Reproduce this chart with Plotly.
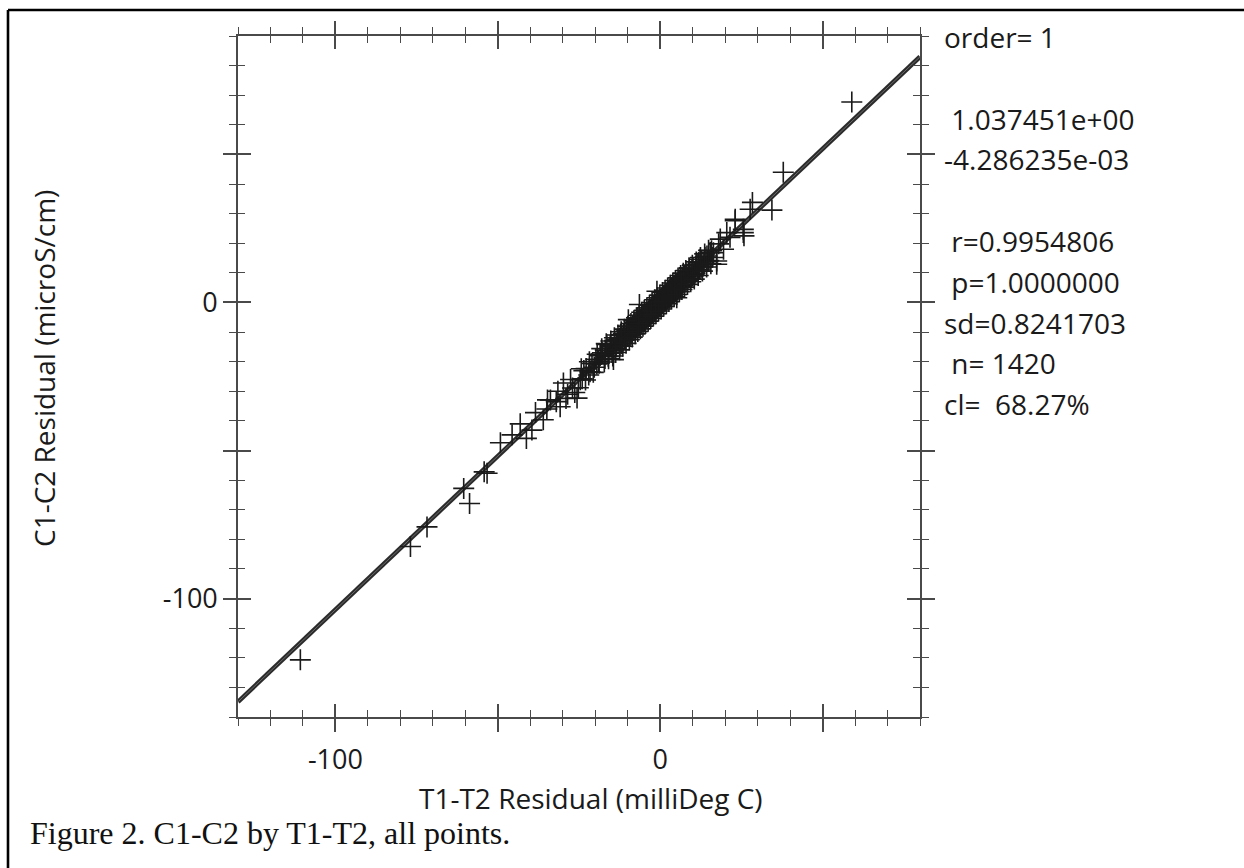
import plotly.graph_objects as go

# ---- data ----
t_resid = [
    -110.8, -76.9, -71.8, -60.5, -58.7, -54.2, -53.3, -49.2, -45.6, -43.1, -41.2,
    -34.9, -34.7, -33.8, -32.0, -30.8, -29.8, -28.5, -27.0, -26.3, -25.6, -24.6,
    -23.5, -22.0, -21.0, -19.5, -19.0, -18.2, -17.0, -16.4, -15.8, -15.1, -14.4,
    -14.4, -14.0, -13.5, -12.9, -12.4, -12.0, -11.6, -11.1, -10.7, -10.3, -9.8,
    -9.6, -9.2, -8.9, -8.5, -8.1, -7.8, -7.4, -7.0, -6.5, -6.4, -6.2, -5.9, -5.5,
    -5.2, -4.9, -4.6, -4.3, -4.0, -3.7, -3.4, -3.1, -2.8, -2.5, -2.2, -1.9, -1.6,
    -1.3, -1.0, -1.0, -0.7, -0.4, -0.1, 0.2, 0.5, 0.8, 1.1, 1.4, 1.7, 2.0, 2.3,
    2.6, 2.9, 3.2, 3.5, 3.8, 4.1, 4.4, 4.7, 5.0, 5.1, 5.4, 5.8, 6.2, 6.6, 7.0,
    7.4, 7.8, 8.3, 8.8, 9.0, 9.3, 9.8, 10.4, 11.0, 11.6, 12.3, 12.9, 13.5, 14.4,
    15.0, 15.8, 16.4, 17.4, 17.4, 18.0, 18.5, 19.5, 20.5, 21.5, 23.1, 23.1, 25.6,
    25.6, 25.8, 27.7, 28.4, 34.4, 37.9, 59.0,
    -19.8, -18.8, -17.8, -16.9, -16.0, -15.4, -14.8, -13.9, -13.2, -12.6, -11.9,
    -11.3, -10.9, -10.1, -9.5, -9.0, -8.6, -8.2, -7.6, -7.2, -6.8, -6.0, -5.7,
    -5.3, -5.0, -4.5, -4.2, -3.9, -3.5, -3.2, -2.9, -2.6, -2.3, -2.0, -1.7, -1.4,
    -1.1, -0.8, -0.5, -0.2, 0.1, 0.4, 0.7, 1.0, 1.3, 1.6, 1.9, 2.2, 2.5, 2.8, 3.1,
    3.4, 3.7, 4.0, 4.3, 4.6, 4.9, 5.3, 5.6, 6.0, 6.4, 6.8, 7.2, 7.6, 8.0, 8.5,
    9.1, 9.6, 10.1, 10.7, 11.3, 12.0, 12.6, 13.2, 13.8, 14.7, 15.4, 16.1, -22.8,
    -24.0, -20.3, -21.6, -18.5, -0.3, 0.9, -2.4, 3.0, -4.8, 5.8, -7.0, 7.5, -9.3,
    10.0, -12.2, 11.8,
    -18.0, -17.2, -16.6, -15.9, -15.2, -14.6, -14.1, -13.7, -13.0, -12.5, -12.0,
    -11.5, -11.0, -10.5, -10.0, -9.5, -9.0, -8.6, -8.1, -7.7, -7.3, -6.9, -6.5,
    -6.1, -5.7, -5.3, -4.9, -4.5, -4.1, -3.7, -3.3, -2.9, -2.5, -2.1, -1.7, -1.3,
    -0.9, -0.5, -0.1, 0.3, 0.7, 1.1, 1.5, 1.9, 2.3, 2.7, 3.1, 3.5, 3.9, 4.3, 4.7,
    5.1, 5.5, 5.9, 6.3, 6.7, 7.1, 7.5, 7.9, 8.4, 8.9, 9.4, 9.9, 10.5, 11.1, 11.7,
    12.4, 13.0, 13.7, 14.3, 14.9, 15.6, -19.4, -20.6, -21.8, -23.0, -24.3, -25.2,
    -27.6, -29.0, -31.5, -36.0, -38.4, -39.5, -1.5, -0.6, 0.6, 1.5, 2.4, -2.7,
    3.6, -3.8, 4.5, -5.6, 6.5, -6.6,
]
c_resid = [
    -120.7, -82.4, -75.8, -62.8, -67.9, -57.2, -57.7, -47.4, -44.7, -41.0, -45.9,
    -36.0, -32.9, -32.9, -33.5, -35.2, -27.2, -31.0, -28.9, -30.4, -32.3, -26.1,
    -23.0, -24.5, -20.6, -20.8, -19.9, -17.6, -18.9, -14.2, -17.1, -15.0, -16.3,
    -19.3, -12.9, -14.8, -13.0, -14.6, -11.1, -12.9, -11.0, -12.6, -9.4, -5.8,
    -10.8, -8.6, -10.1, -8.1, -9.5, -6.9, -8.6, -6.3, -7.9, -0.7, -5.6, -6.8, -4.9,
    -6.3, -4.4, -5.9, -3.6, -5.0, -3.1, -4.4, -2.5, -3.9, -1.9, -3.3, -1.2, -2.8,
    -0.6, 3.8, -2.0, -0.1, -1.5, 0.6, -0.9, 1.2, -0.2, 2.0, 0.4, 2.6, 1.0, 3.3,
    1.8, 3.9, 2.2, 4.7, 2.9, 5.3, 3.6, 5.9, 4.3, 1.6, 6.4, 5.1, 7.3, 5.9, 8.1,
    6.6, 9.0, 7.4, 10.0, 11.5, 8.2, 11.1, 9.4, 12.3, 10.6, 14.6, 12.0, 13.0, 15.7,
    14.2, 17.5, 16.8, 12.9, 14.0, 19.8, 21.4, 18.0, 23.6, 22.0, 28.1, 27.6, 24.7,
    23.6, 22.5, 31.5, 33.8, 31.2, 44.0, 67.7,
    -19.2, -20.5, -17.0, -16.1, -18.2, -14.6, -16.9, -15.5, -12.4, -12.1, -13.9,
    -10.6, -11.9, -11.4, -8.9, -10.6, -9.8, -7.6, -9.0, -7.0, -6.0, -7.4, -5.2,
    -4.6, -6.6, -3.9, -5.4, -4.5, -2.8, -4.6, -2.3, -3.4, -1.6, -2.9, -1.0, -2.3,
    -0.3, -1.8, 0.3, -1.2, 1.1, -0.5, 1.6, 0.1, 2.3, 0.7, 3.0, 1.2, 3.5, 2.0, 4.2,
    2.5, 4.9, 3.3, 5.7, 3.9, 6.3, 4.5, 7.0, 5.3, 7.6, 5.8, 8.6, 6.9, 9.6, 7.7,
    10.5, 8.6, 11.6, 9.9, 12.9, 11.2, 13.8, 12.3, 15.3, 13.8, 16.9, 15.2, -22.3,
    -25.8, -21.9, -23.4, -18.0, 0.9, 2.2, -1.2, 1.5, -6.2, 7.6, -5.4, 8.9, -11.2,
    9.0, -10.8, 13.5,
    -15.6, -20.1, -13.9, -19.0, -13.0, -18.1, -11.9, -16.9, -11.0, -16.0, -9.9,
    -14.8, -9.0, -13.8, -8.0, -12.6, -7.1, -11.7, -6.2, -10.6, -5.2, -9.8, -4.3,
    -8.9, -3.3, -8.0, -2.6, -7.1, -1.8, -6.3, -0.9, -5.4, 0.0, -4.6, 0.9, -3.8,
    1.6, -2.9, 2.5, -2.2, 3.4, -1.3, 4.1, -0.4, 4.9, 0.3, 5.8, 1.2, 6.6, 1.9, 7.4,
    2.7, 8.3, 3.6, 9.1, 4.4, 9.9, 5.2, 10.8, 6.1, 11.7, 7.0, 12.6, 7.9, 13.7, 9.1,
    15.2, 10.6, 16.4, 12.0, 17.6, 13.1, -17.5, -23.6, -20.0, -26.2, -22.4, -28.8,
    -26.0, -32.4, -30.0, -39.6, -37.2, -43.1, -1.0, -0.2, 0.2, 1.9, 2.2, -3.0,
    3.9, -4.2, 4.9, -5.6, 6.9, -7.1,
]

fit_slope = 1.037451
fit_intercept = -4.286235e-03
fit_x = [-130, 80]

x_range = [-130, 80]
y_range = [-140, 90]
major_vals = [-100, -50, 0, 50]
major_text = ["-100", "", "0", ""]

stats_lines = [
    "order= 1",
    "",
    "\u00a01.037451e+00",
    "-4.286235e-03",
    "",
    "\u00a0r=0.9954806",
    "\u00a0p=1.0000000",
    "sd=0.8241703",
    "\u00a0n= 1420",
    "cl=\u00a0 68.27%",
]

x_title = "T1-T2 Residual (milliDeg C)"
y_title = "C1-C2 Residual (microS/cm)"
caption = "Figure 2. C1-C2 by T1-T2, all points."

# ---- layout geometry (pixels) ----
W, H = 1244, 868
L, R, T, B = 238, 920, 36, 717
pw, ph = R - L, B - T


def px_x(px):
    return (px - L) / pw


def px_y(py):
    return (B - py) / ph


FONT = "Open Sans"
AX = "#4a4a4a"

fig = go.Figure()

fit_y = [fit_slope * v + fit_intercept for v in fit_x]
fig.add_trace(go.Scatter(x=fit_x, y=fit_y, mode="lines",
                         line=dict(color="#2b2b2b", width=4.6),
                         hoverinfo="skip", showlegend=False))
fig.add_trace(go.Scatter(x=fit_x, y=fit_y, mode="lines",
                         line=dict(color="#6a6a6a", width=1.0),
                         hoverinfo="skip", showlegend=False))
fig.add_trace(go.Scatter(x=t_resid, y=c_resid, mode="markers",
                         marker=dict(symbol="cross-thin", size=15,
                                     line=dict(color="#1a1a1a", width=1.6)),
                         showlegend=False))
# helper trace for the inner-tick axes
fig.add_trace(go.Scatter(x=[None], y=[None], xaxis="x2", yaxis="y2",
                         showlegend=False, hoverinfo="skip"))

common = dict(showline=True, linecolor=AX, linewidth=1.6, mirror="ticks",
              showgrid=False, zeroline=False, tickwidth=1.6, tickcolor=AX,
              fixedrange=True)

fig.update_layout(
    width=W, height=H,
    margin=dict(l=L, r=W - R, t=T, b=H - B, pad=0),
    paper_bgcolor="white", plot_bgcolor="white",
    xaxis=dict(range=x_range, ticks="outside", ticklen=13,
               tickvals=major_vals, ticktext=major_text, ticklabelstandoff=5,
               tickfont=dict(family=FONT, size=27, color="#1a1a1a"),
               minor=dict(dtick=10, tick0=0, ticks="outside", ticklen=7,
                          tickwidth=1.4, tickcolor=AX),
               **common),
    yaxis=dict(range=y_range, ticks="outside", ticklen=13,
               tickvals=major_vals, ticktext=major_text,
               tickfont=dict(family=FONT, size=27, color="#1a1a1a"),
               minor=dict(dtick=10, tick0=0, ticks="outside", ticklen=7,
                          tickwidth=1.4, tickcolor=AX),
               **common),
    xaxis2=dict(range=x_range, overlaying="x", anchor="y2", side="bottom",
                ticks="inside", ticklen=13, tickvals=major_vals,
                showticklabels=False,
                minor=dict(dtick=10, tick0=0, ticks="inside", ticklen=7,
                           tickwidth=1.4, tickcolor=AX),
                **common),
    yaxis2=dict(range=y_range, overlaying="y", anchor="x2", side="left",
                ticks="inside", ticklen=13, tickvals=major_vals,
                showticklabels=False,
                minor=dict(dtick=10, tick0=0, ticks="inside", ticklen=7,
                           tickwidth=1.4, tickcolor=AX),
                **common),
)

annotations = []
annotations.append(dict(text=x_title, x=px_x(591), y=px_y(798), xref="paper", yref="paper",
                        xanchor="center", yanchor="middle", showarrow=False,
                        font=dict(family=FONT, size=28, color="#1a1a1a")))
annotations.append(dict(text=y_title, x=px_x(44), y=px_y(368), xref="paper", yref="paper",
                        xanchor="center", yanchor="middle", showarrow=False, textangle=-90,
                        font=dict(family=FONT, size=28, color="#1a1a1a")))
annotations.append(dict(text=caption, x=px_x(28), y=px_y(833), xref="paper", yref="paper",
                        xanchor="left", yanchor="middle", showarrow=False,
                        font=dict(family="Liberation Serif", size=32, color="#111111")))
line_y0, line_step = 37, 40.8
for i, s in enumerate(stats_lines):
    if not s:
        continue
    annotations.append(dict(text=s, x=px_x(942), y=px_y(line_y0 + i * line_step),
                            xref="paper", yref="paper", xanchor="left", yanchor="middle",
                            showarrow=False,
                            font=dict(family=FONT, size=28, color="#1a1a1a")))
fig.update_layout(annotations=annotations)

# outer frame (only top and left edges fall inside the figure)
fx, fy = px_x(8), px_y(10)
fig.update_layout(shapes=[
    dict(type="line", xref="paper", yref="paper", x0=fx, y0=fy, x1=px_x(1244), y1=fy,
         line=dict(color="black", width=2.6)),
    dict(type="line", xref="paper", yref="paper", x0=fx, y0=fy, x1=fx, y1=px_y(868),
         line=dict(color="black", width=2.6)),
])

fig.write_html("out.html")
